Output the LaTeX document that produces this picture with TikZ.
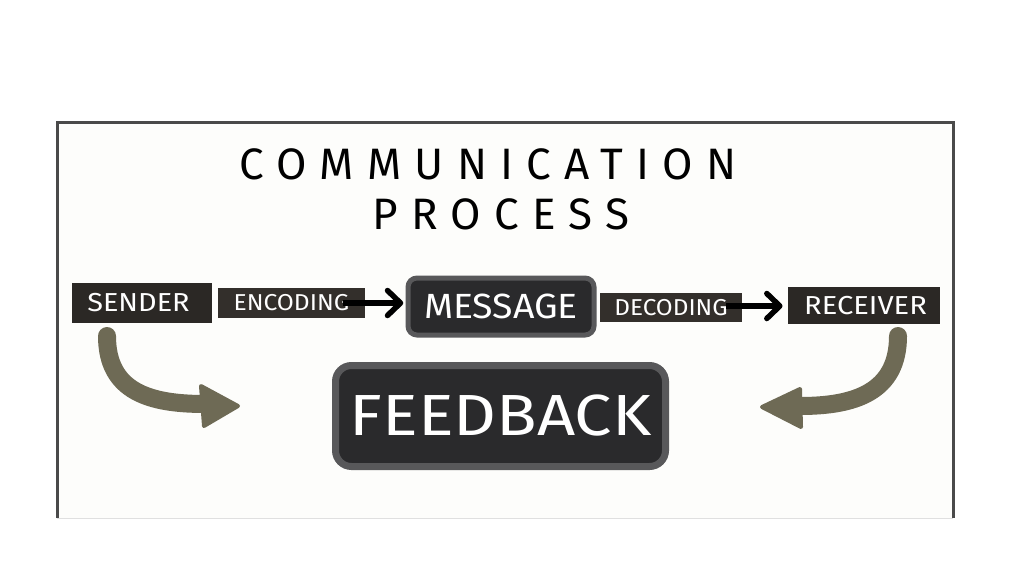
\documentclass[tikz,border=0pt]{standalone}
\usepackage{fontspec}
\setmainfont{Fira Sans}
\usetikzlibrary{calc}
\definecolor{boxdark}{HTML}{2B2825}
\definecolor{boxdarkb}{HTML}{332F2B}
\definecolor{rimgray}{HTML}{58585A}
\definecolor{coredark}{HTML}{2A2A2C}
\definecolor{olive}{HTML}{6E6A55}
\definecolor{framegray}{HTML}{4A4A4A}
\definecolor{paper}{HTML}{FDFDFB}
\newcommand{\boxfont}[2]{\fontsize{#1}{#1}\selectfont\addfontfeature{FakeStretch=#2}}
\tikzset{
  flatbox/.style={fill=boxdark, text=white, inner sep=0pt, anchor=center},
  rimbox/.style={fill=coredark, draw=rimgray, text=white, inner sep=0pt},
  blackshaft/.style={line width=5.5pt},
  chevron/.style={line width=5.5pt, line cap=round, line join=round},
  olivearrow/.style={draw=olive, line width=18pt, line cap=round},
  olivehead/.style={fill=olive, draw=olive, line width=4pt, line join=round},
}
\begin{document}
\begin{tikzpicture}[x=1pt,y=-1pt]
\useasboundingbox (0,0) rectangle (1024,576);
\fill[white] (0,0) rectangle (1024,576);
% frame
\fill[paper] (57,122) rectangle (953,518);
\draw[framegray, line width=3pt] (57,518) -- (57,122) -- (953,122) -- (953,518);
\draw[black!12, line width=1pt] (57,518) -- (953,518);
% title
\node (t1) at (488,164) {\fontsize{44}{44}\selectfont\addfontfeature{LetterSpace=30}COMMUNICATION};
\node (t2) at (501,214) {\fontsize{44}{44}\selectfont\addfontfeature{LetterSpace=30}PROCESS};
% top row boxes
\node[flatbox, minimum width=140pt, minimum height=40pt] (sender) at (142,303) {\hspace*{-7pt}\boxfont{26}{1.11}SENDER};
\node[flatbox, fill=boxdarkb, minimum width=147pt, minimum height=30pt] (enc) at (291.5,303) {\boxfont{23}{1.07}ENCODING};
\node[rimbox, line width=5pt, rounded corners=9pt, minimum width=186pt, minimum height=57pt] (msg) at (501,306.5) {\boxfont{35}{1.07}MESSAGE};
\node[flatbox, fill=boxdarkb, minimum width=142pt, minimum height=29pt] (dec) at (671,307.5) {\boxfont{23}{1.06}DECODING};
\node[flatbox, minimum width=152pt, minimum height=37pt] (rec) at (864,305.5) {\hspace*{3pt}\boxfont{26}{1.12}RECEIVER};
\node[rimbox, line width=7pt, rounded corners=16pt, minimum width=330pt, minimum height=101pt] (fb) at (500.5,416) {\boxfont{58}{1.15}FEEDBACK};
% black arrows
\coordinate (encstart) at (343,303);
\coordinate (decstart) at (726,306);
\draw[blackshaft] (encstart) -- ($(msg.west)+(-6,-3.5)$);
\draw[chevron] ($(msg.west)+(-18,-16)$) -- ($(msg.west)+(-5,-3.5)$) -- ($(msg.west)+(-18,9)$);
\draw[blackshaft] (decstart) -- ($(rec.west)+(-9,0.5)$);
\draw[chevron] ($(rec.west)+(-21,-12)$) -- ($(rec.west)+(-8,0.5)$) -- ($(rec.west)+(-21,13)$);
% olive curved arrows
\coordinate (ls) at (107,336);
\coordinate (le) at (205,404);
\draw[olivearrow] (ls) .. controls (107,392) and (150,404) .. (le) -- ++(3,0);
\filldraw[olivehead] (201,386) -- (238,406) -- (204,426) -- cycle;
\coordinate (rs) at (898,336);
\coordinate (re) at (800,406);
\draw[olivearrow] (rs) .. controls (898,392) and (855,406) .. (re) -- ++(-3,0);
\filldraw[olivehead] (800,389) -- (762,407) -- (801,427) -- cycle;
\end{tikzpicture}
\end{document}
